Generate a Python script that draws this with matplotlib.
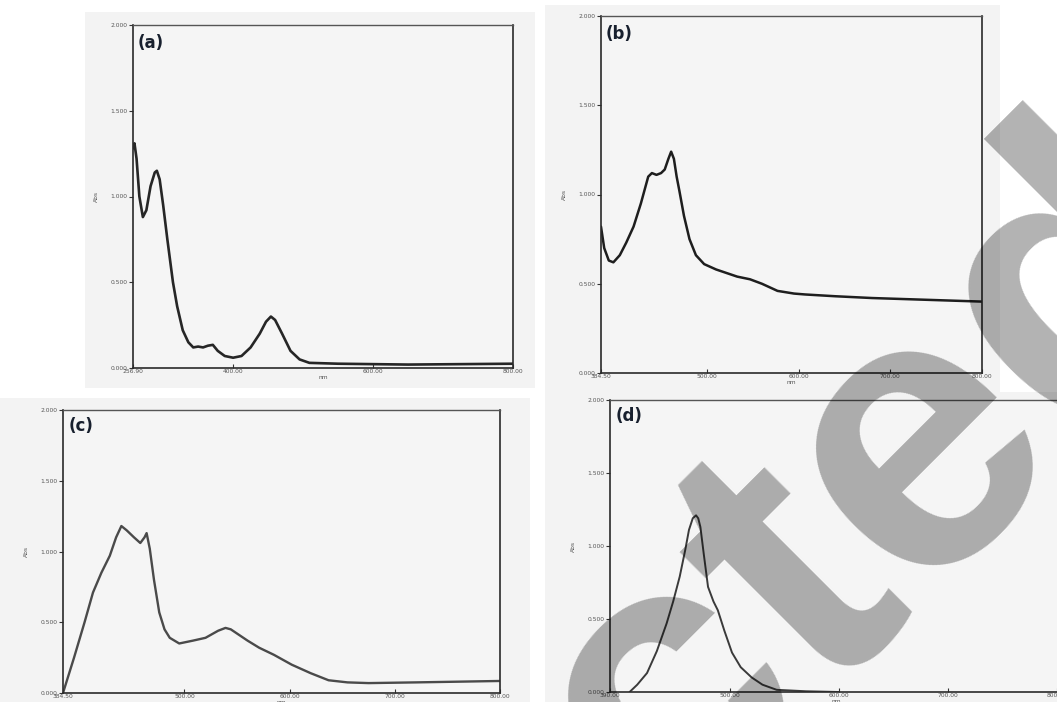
import matplotlib.pyplot as plt
from matplotlib.patches import Rectangle
import numpy as np

# --- data ---
wl_a = [256.9, 259, 262, 266, 271, 276, 282, 288, 291, 295, 300, 306, 314, 320, 328, 336,
        343, 350, 357, 364, 371, 378, 388, 400, 412, 425, 438, 447, 454, 460, 470, 482,
        495, 509, 550, 650, 800]
abs_a = [1.28, 1.31, 1.22, 1.00, 0.88, 0.92, 1.06, 1.14, 1.15, 1.10, 0.95, 0.75, 0.50, 0.36,
         0.22, 0.15, 0.12, 0.125, 0.12, 0.13, 0.135, 0.10, 0.07, 0.06, 0.07, 0.12, 0.20,
         0.27, 0.30, 0.28, 0.20, 0.10, 0.05, 0.03, 0.025, 0.02, 0.025]

wl_b = [384.5, 388, 393, 398, 405, 412, 420, 428, 436, 440, 445, 450, 454, 458, 461, 464,
        467, 470, 475, 481, 488, 497, 510, 533, 547, 560, 577, 595, 607, 640, 680, 740, 800]
abs_b = [0.82, 0.70, 0.63, 0.62, 0.66, 0.73, 0.82, 0.95, 1.10, 1.12, 1.11, 1.12, 1.14, 1.20,
         1.24, 1.20, 1.10, 1.02, 0.88, 0.75, 0.66, 0.61, 0.58, 0.54, 0.525, 0.50, 0.46,
         0.445, 0.44, 0.43, 0.42, 0.41, 0.40]

wl_c = [384.5, 395, 405, 413, 421, 429, 435, 440, 445, 452, 458, 462, 464, 467, 471, 476,
        481, 486, 495, 508, 520, 532, 539, 544, 548, 560, 571, 585, 602, 620, 637, 655,
        675, 720, 760, 800]
abs_c = [0.0, 0.25, 0.50, 0.71, 0.85, 0.97, 1.10, 1.18, 1.15, 1.10, 1.06, 1.10, 1.13, 1.02,
         0.80, 0.57, 0.45, 0.39, 0.35, 0.37, 0.39, 0.44, 0.46, 0.45, 0.43, 0.37, 0.32,
         0.27, 0.20, 0.14, 0.09, 0.075, 0.07, 0.075, 0.08, 0.085]

wl_d = [408, 415, 424, 433, 442, 448, 454, 459, 462.5, 466, 469, 471, 473, 476, 480, 485,
        489, 495, 502, 510, 520, 530, 543, 570, 600]
abs_d = [0.0, 0.05, 0.13, 0.28, 0.47, 0.62, 0.79, 0.97, 1.11, 1.19, 1.21, 1.19, 1.13, 0.95,
         0.72, 0.62, 0.56, 0.42, 0.27, 0.17, 0.10, 0.05, 0.015, 0.005, 0.0]

y_ticks = [0.0, 0.5, 1.0, 1.5, 2.0]
xticks_a = [256.9, 400, 600, 800]
xticks_b = [384.5, 500, 600, 700, 800]
xticks_c = [384.5, 500, 600, 700, 800]
xticks_d = [390, 500, 600, 700, 800]

W, H = 1057, 702
fig = plt.figure(figsize=(W / 100, H / 100), dpi=100)
fig.patch.set_facecolor('white')


def px_box(l, r, t, b):
    return [l / W, 1 - b / H, (r - l) / W, (b - t) / H]


# scanned paper backgrounds
for (l, r, t, b) in [(85, 535, 12, 388), (545, 1000, 5, 395), (0, 530, 398, 702), (545, 1057, 392, 702)]:
    fig.patches.append(Rectangle((l / W, 1 - b / H), (r - l) / W, (b - t) / H,
                                 transform=fig.transFigure, facecolor='#f3f3f3',
                                 edgecolor='none', zorder=-5))

panels = [
    ('(a)', px_box(133, 513, 25, 368), wl_a, abs_a, xticks_a, (256.9, 800), '#262626', 1.9),
    ('(b)', px_box(601, 982, 16, 373), wl_b, abs_b, xticks_b, (384.5, 800), '#1e1e1e', 1.8),
    ('(c)', px_box(63, 500, 410, 693), wl_c, abs_c, xticks_c, (384.5, 800), '#4a4a4a', 1.7),
    ('(d)', px_box(610, 1062, 400, 692), wl_d, abs_d, xticks_d, (390, 805), '#3a3a3a', 1.4),
]

for label, box, x, y, xt, xl, col, lw in panels:
    ax = fig.add_axes(box)
    ax.set_facecolor('#f5f5f5')
    ax.plot(x, y, color=col, lw=lw, solid_capstyle='round')
    ax.set_xlim(*xl)
    ax.set_ylim(0, 2.0)
    ax.set_yticks(y_ticks)
    ax.set_yticklabels([f'{v:.3f}' for v in y_ticks])
    ax.set_xticks(xt)
    ax.set_xticklabels([f'{v:.2f}' for v in xt])
    ax.tick_params(axis='both', labelsize=4.3, labelcolor='#555555', color='#333333',
                   length=3, width=0.8, pad=1.0)
    ax.tick_params(axis='x', direction='in')
    ax.tick_params(axis='y', direction='out')
    for s in ['left', 'bottom', 'right']:
        ax.spines[s].set_color('#2a2a2a')
        ax.spines[s].set_linewidth(1.2)
    ax.spines['top'].set_color('#555555')
    ax.spines['top'].set_linewidth(1.0)
    ax.set_ylabel('Abs', fontsize=4.3, color='#555555', labelpad=8)
    ax.set_xlabel('nm', fontsize=4.3, color='#555555', labelpad=0.5)
    ax.text(0.012, 0.975, label, transform=ax.transAxes, fontsize=12, fontweight='bold',
            color='#18202e', ha='left', va='top')

# translucent watermark across the figure
fig.text(1238 / W, 1 - 265 / H, 'protected', rotation=45, rotation_mode='anchor',
         ha='right', va='baseline', fontsize=285, fontweight='bold',
         color='black', alpha=0.3, family='Liberation Sans', zorder=10)

fig.savefig('out.png', dpi=100)
